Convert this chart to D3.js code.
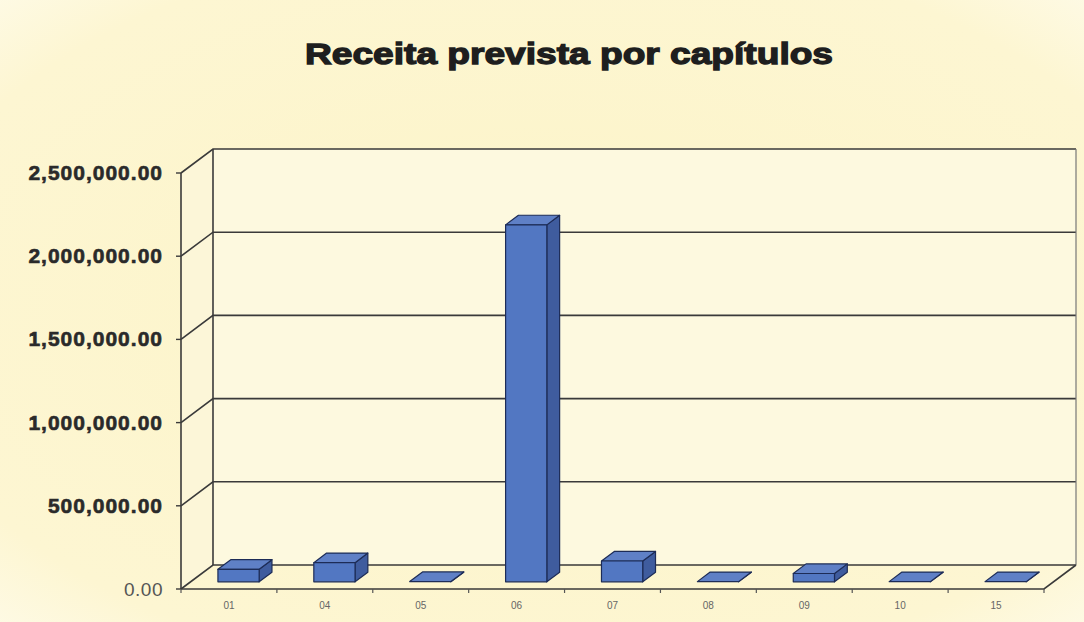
<!DOCTYPE html>
<html>
<head>
<meta charset="utf-8">
<script src="https://cdn.jsdelivr.net/npm/d3@7"></script>
<style>
  body { margin: 0; background: #fdf7d6; }
</style>
</head>
<body>
<div id="chart"></div>
<script>
// chart data
const capitulos = ["01", "04", "05", "06", "07", "08", "09", "10", "15"];
const receita = [75000, 115000, 1500, 2145000, 125000, 1000, 50000, 1000, 1000];
const yTicks = [0, 500000, 1000000, 1500000, 2000000, 2500000];
const titulo = "Receita prevista por capítulos";

const W = 1084, H = 622;
// 3d depth offset of the plot box
const DX = 32, DY = -24;
const T0 = 0.3, T1 = 0.7; // bar depth range

const svg = d3.select("#chart").append("svg")
  .attr("width", W)
  .attr("height", H);

const defs = svg.append("defs");
const bg = defs.append("radialGradient").attr("id", "bg")
  .attr("cx", "50%").attr("cy", "50%").attr("r", "75%");
bg.append("stop").attr("offset", "0%").attr("stop-color", "#fcf4c8");
bg.append("stop").attr("offset", "80%").attr("stop-color", "#fdf6d2");
bg.append("stop").attr("offset", "100%").attr("stop-color", "#fefbea");

svg.append("rect").attr("width", W).attr("height", H).attr("fill", "url(#bg)");

let x = d3.scaleBand()
  .domain(capitulos)
  .range([181, 1044])
  .paddingInner(0.57)
  .paddingOuter(0.285);

let y = d3.scaleLinear()
  .domain([0, 2500000])
  .range([589, 173]);

function p(px, py, t) {
  return [px + DX * t, py + DY * t];
}
function poly(pts) {
  return pts.map(d => d.join(",")).join(" ");
}

const x0 = x.range()[0], x1 = x.range()[1];
const yTop = y(2500000), yBot = y(0);

// walls
svg.append("polygon")
  .attr("points", poly([p(x0, yTop, 1), p(x1, yTop, 1), p(x1, yBot, 1), p(x0, yBot, 1)]))
  .attr("fill", "#fdf9df");
svg.append("polygon")
  .attr("points", poly([p(x0, yTop, 0), p(x0, yTop, 1), p(x0, yBot, 1), p(x0, yBot, 0)]))
  .attr("fill", "#fcf6d8");

const lineCol = "#3a3a3a";

// gridlines on back and side wall
yTicks.forEach(v => {
  const yy = y(v);
  svg.append("polyline")
    .attr("points", poly([p(x0, yy, 0), p(x0, yy, 1), p(x1, yy, 1)]))
    .attr("fill", "none")
    .attr("stroke", lineCol)
    .attr("stroke-width", 1.6);
});

// box edges
svg.append("line")
  .attr("x1", p(x0, yTop, 1)[0]).attr("y1", p(x0, yTop, 1)[1])
  .attr("x2", p(x0, yBot, 1)[0]).attr("y2", p(x0, yBot, 1)[1])
  .attr("stroke", lineCol).attr("stroke-width", 1.6);
svg.append("line")
  .attr("x1", p(x1, yTop, 1)[0]).attr("y1", p(x1, yTop, 1)[1])
  .attr("x2", p(x1, yBot, 1)[0]).attr("y2", p(x1, yBot, 1)[1])
  .attr("stroke", "#777").attr("stroke-width", 1.2);
svg.append("polyline")
  .attr("points", poly([p(x0, yBot, 0), p(x1, yBot, 0), p(x1, yBot, 1)]))
  .attr("fill", "none").attr("stroke", lineCol).attr("stroke-width", 1.6);
svg.append("line")
  .attr("x1", x0).attr("y1", yTop).attr("x2", x0).attr("y2", yBot)
  .attr("stroke", lineCol).attr("stroke-width", 1.6);

// y ticks and labels
const fmt = d3.format(",.2f");
yTicks.forEach(v => {
  svg.append("line")
    .attr("x1", x0 - 5).attr("x2", x0)
    .attr("y1", y(v)).attr("y2", y(v))
    .attr("stroke", lineCol).attr("stroke-width", 1.4);
  svg.append("text")
    .attr("x", 163)
    .attr("y", y(v) + 7)
    .attr("text-anchor", "end")
    .attr("font-family", "Liberation Sans, Arial, sans-serif")
    .attr("font-weight", v === 0 ? "normal" : "bold")
    .attr("font-size", v === 0 ? 19 : 21)
    .attr("letter-spacing", v === 0 ? 0.5 : 1)
    .attr("fill", v === 0 ? "#555" : "#2a2a2a")
    .attr("stroke", v === 0 ? "none" : "#2a2a2a")
    .attr("stroke-width", 0.6)
    .text(fmt(v));
});

// x ticks between categories
const step = x.step();
d3.range(capitulos.length + 1).forEach(i => {
  const xx = x0 + i * step;
  svg.append("line")
    .attr("x1", xx).attr("x2", xx)
    .attr("y1", yBot).attr("y2", yBot + 4)
    .attr("stroke", "#555").attr("stroke-width", 1.2);
});

// category labels
svg.selectAll(".cat")
  .data(capitulos)
  .enter()
  .append("text")
  .attr("class", "cat")
  .attr("x", d => x(d) + x.bandwidth() / 2)
  .attr("y", 609)
  .attr("text-anchor", "middle")
  .attr("font-family", "Liberation Sans, Arial, sans-serif")
  .attr("font-size", 10)
  .attr("fill", "#666")
  .text(d => d);

// 3d bars
const bars = svg.selectAll(".bar")
  .data(capitulos.map((c, i) => ({ cap: c, val: receita[i] })))
  .enter()
  .append("g")
  .attr("class", "bar");

const edge = "#1d2c57";

bars.append("polygon") // side
  .attr("points", d => {
    const bx = x(d.cap) + x.bandwidth(), yv = y(d.val);
    return poly([p(bx, yBot, T0), p(bx, yv, T0), p(bx, yv, T1), p(bx, yBot, T1)]);
  })
  .attr("fill", "#3f5c9e").attr("stroke", edge).attr("stroke-width", 1.2)
  .attr("stroke-linejoin", "round");

bars.append("polygon") // top
  .attr("points", d => {
    const a = x(d.cap), b = a + x.bandwidth(), yv = y(d.val);
    return poly([p(a, yv, T0), p(b, yv, T0), p(b, yv, T1), p(a, yv, T1)]);
  })
  .attr("fill", "#5f80c6").attr("stroke", edge).attr("stroke-width", 1.2)
  .attr("stroke-linejoin", "round");

bars.filter(d => yBot - y(d.val) > 2)
  .append("polygon") // front
  .attr("points", d => {
    const a = x(d.cap), b = a + x.bandwidth(), yv = y(d.val);
    return poly([p(a, yv, T0), p(b, yv, T0), p(b, yBot, T0), p(a, yBot, T0)]);
  })
  .attr("fill", "#5277c2").attr("stroke", edge).attr("stroke-width", 1.2)
  .attr("stroke-linejoin", "round");

// title
svg.append("text")
  .attr("x", 569)
  .attr("y", 64)
  .attr("text-anchor", "middle")
  .attr("font-family", "Liberation Sans, Arial, sans-serif")
  .attr("font-weight", "bold")
  .attr("font-size", 30)
  .attr("textLength", 528)
  .attr("lengthAdjust", "spacingAndGlyphs")
  .attr("fill", "#1e1e1e")
  .attr("stroke", "#1e1e1e")
  .attr("stroke-width", 1.3)
  .text(titulo);
</script>
</body>
</html>
